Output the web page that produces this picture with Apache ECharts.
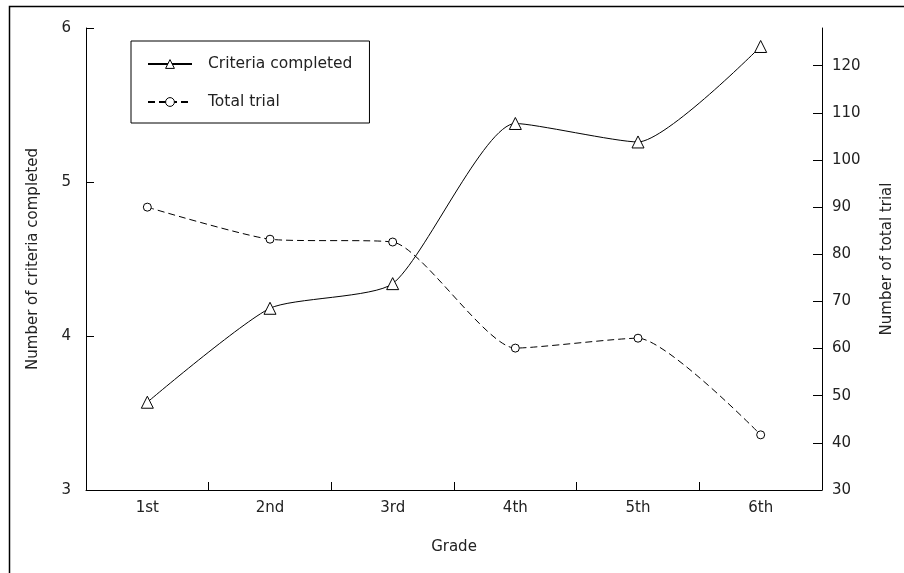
<!DOCTYPE html>
<html>
<head>
<meta charset="utf-8">
<script src="https://cdn.jsdelivr.net/npm/echarts@6/dist/echarts.min.js"></script>
<style>html,body{margin:0;padding:0;background:#fff;}#c{width:904px;height:573px;}</style>
</head>
<body>
<div id="c"></div>
<script>
const grades = ['1st', '2nd', '3rd', '4th', '5th', '6th'];
const criteriaCompleted = [3.57, 4.18, 4.34, 5.38, 5.26, 5.88];
const totalTrial = [90.0, 83.2, 82.6, 60.1, 62.2, 41.7];
const leftTicks = [3, 4, 5, 6];
const rightTicks = [30, 40, 50, 60, 70, 80, 90, 100, 110, 120];

const FONT = 'DejaVu Sans';
const chart = echarts.init(document.getElementById('c'), null, {renderer: 'canvas'});
chart.setOption({
  backgroundColor: '#fff',
  animation: false,
  textStyle: {fontFamily: FONT},
  graphic: [{
    type: 'rect', left: 7, top: 4, silent: true,
    shape: {x: 0, y: 0, width: 1000, height: 1000},
    style: {fill: 'none', stroke: '#000', lineWidth: 1.5}
  }],
  grid: {left: 86, right: 82, top: 28, bottom: 83, containLabel: false},
  legend: {
    orient: 'vertical', left: 131, top: 41,
    padding: [15, 17, 13, 16],
    itemWidth: 44, itemHeight: 11, itemGap: 22,
    borderColor: '#000', borderWidth: 1,
    itemStyle: {color: '#fff', borderColor: '#000', borderWidth: 1},
    textStyle: {fontFamily: FONT, fontSize: 15.5, color: '#222', padding: [0, 0, 0, 11]},
    data: ['Criteria completed', 'Total trial']
  },
  xAxis: {
    type: 'category', data: grades, boundaryGap: true,
    name: 'Grade', nameLocation: 'middle', nameGap: 50,
    nameTextStyle: {fontFamily: FONT, fontSize: 15, color: '#222'},
    axisLine: {lineStyle: {color: '#000', width: 1}},
    axisTick: {show: true, inside: true, length: 8, lineStyle: {color: '#000', width: 1}},
    axisLabel: {fontFamily: FONT, fontSize: 15, color: '#222', margin: 11},
    splitLine: {show: false}
  },
  yAxis: [{
    type: 'value', min: 3, max: 6, interval: 1, position: 'left',
    name: 'Number of criteria completed', nameLocation: 'middle', nameGap: 45, nameRotate: 90,
    nameTextStyle: {fontFamily: FONT, fontSize: 15, color: '#222'},
    axisLine: {show: true, lineStyle: {color: '#000', width: 1}},
    axisTick: {show: true, inside: true, length: 8, lineStyle: {color: '#000', width: 1}, customValues: leftTicks},
    axisLabel: {fontFamily: FONT, fontSize: 15, color: '#222', margin: 15, customValues: leftTicks},
    splitLine: {show: false}
  }, {
    type: 'value', min: 30, max: 128, interval: 10, position: 'right',
    name: 'Number of total trial', nameLocation: 'middle', nameGap: 58, nameRotate: 90,
    nameTextStyle: {fontFamily: FONT, fontSize: 15, color: '#222'},
    axisLine: {show: true, lineStyle: {color: '#000', width: 1}},
    axisTick: {show: true, inside: true, length: 9, lineStyle: {color: '#000', width: 1}, customValues: rightTicks},
    axisLabel: {fontFamily: FONT, fontSize: 15, color: '#222', margin: 10, customValues: rightTicks},
    splitLine: {show: false}
  }],
  series: [{
    name: 'Criteria completed', type: 'line', yAxisIndex: 0,
    data: criteriaCompleted, smooth: 0.2,
    symbol: 'triangle', symbolSize: 12, showAllSymbol: true,
    lineStyle: {color: '#000', width: 1, type: 'solid'},
    itemStyle: {color: '#fff', borderColor: '#000', borderWidth: 1}
  }, {
    name: 'Total trial', type: 'line', yAxisIndex: 1,
    data: totalTrial, smooth: 0.2,
    symbol: 'circle', symbolSize: 8, showAllSymbol: true,
    lineStyle: {color: '#000', width: 1, type: [7, 4]},
    itemStyle: {color: '#fff', borderColor: '#000', borderWidth: 1}
  }]
});
</script>
</body>
</html>
